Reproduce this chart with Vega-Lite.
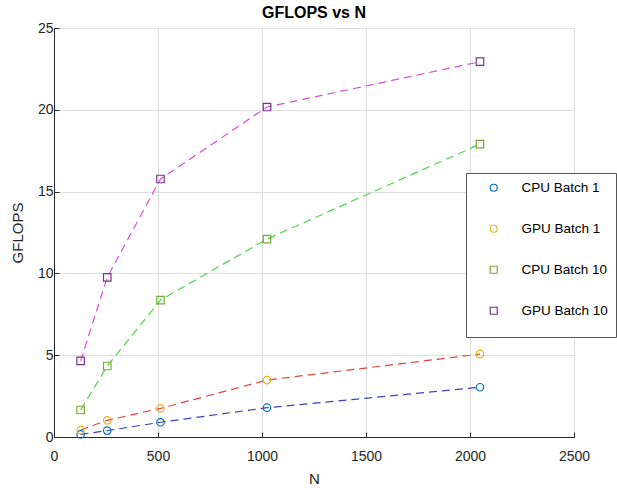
{
  "$schema": "https://vega.github.io/schema/vega-lite/v6.json",
  "width": 520,
  "height": 409,
  "autosize": {"type": "none"},
  "padding": {"left": 54, "top": 28, "right": 43, "bottom": 53},
  "background": "white",
  "title": {"text": "GFLOPS vs N", "fontSize": 16, "fontWeight": "bold", "font": "Liberation Sans", "color": "#000000", "offset": 0, "anchor": "middle"},
  "config": {
    "font": "Liberation Sans",
    "view": {"stroke": null},
    "axis": {
      "labelFont": "Liberation Sans", "labelFontSize": 14, "labelColor": "#262626",
      "titleFont": "Liberation Sans", "titleFontSize": 15, "titleFontWeight": "normal", "titleColor": "#262626",
      "domainColor": "#262626", "domainWidth": 1, "tickColor": "#262626", "tickSize": -5, "tickWidth": 1,
      "gridColor": "#dedede", "gridWidth": 1, "grid": true
    },
    "legend": {
      "labelFont": "Liberation Sans", "labelFontSize": 13.5, "labelColor": "#000000"
    }
  },
  "data": {
    "values": [
      {"series": "CPU Batch 1", "N": 128, "gflops": 0.16},
      {"series": "CPU Batch 1", "N": 256, "gflops": 0.39},
      {"series": "CPU Batch 1", "N": 512, "gflops": 0.90},
      {"series": "CPU Batch 1", "N": 1024, "gflops": 1.79},
      {"series": "CPU Batch 1", "N": 2048, "gflops": 3.04},
      {"series": "GPU Batch 1", "N": 128, "gflops": 0.43},
      {"series": "GPU Batch 1", "N": 256, "gflops": 1.02},
      {"series": "GPU Batch 1", "N": 512, "gflops": 1.75},
      {"series": "GPU Batch 1", "N": 1024, "gflops": 3.48},
      {"series": "GPU Batch 1", "N": 2048, "gflops": 5.07},
      {"series": "CPU Batch 10", "N": 128, "gflops": 1.65},
      {"series": "CPU Batch 10", "N": 256, "gflops": 4.34},
      {"series": "CPU Batch 10", "N": 512, "gflops": 8.37},
      {"series": "CPU Batch 10", "N": 1024, "gflops": 12.1},
      {"series": "CPU Batch 10", "N": 2048, "gflops": 17.9},
      {"series": "GPU Batch 10", "N": 128, "gflops": 4.65},
      {"series": "GPU Batch 10", "N": 256, "gflops": 9.76},
      {"series": "GPU Batch 10", "N": 512, "gflops": 15.77},
      {"series": "GPU Batch 10", "N": 1024, "gflops": 20.17},
      {"series": "GPU Batch 10", "N": 2048, "gflops": 22.94}
    ]
  },
  "encoding": {
    "x": {"field": "N", "type": "quantitative", "scale": {"domain": [0, 2500], "nice": false},
      "axis": {"values": [0, 500, 1000, 1500, 2000, 2500], "format": "d", "title": "N", "labelPadding": 17, "titlePadding": 8, "labelFlush": false}},
    "y": {"field": "gflops", "type": "quantitative", "scale": {"domain": [0, 25], "nice": false},
      "axis": {"values": [0, 5, 10, 15, 20, 25], "title": "GFLOPS", "labelPadding": 6, "titlePadding": 12, "labelFlush": false}}
  },
  "layer": [
    {
      "mark": {"type": "line", "strokeDash": [8, 5], "strokeWidth": 1.2},
      "encoding": {
        "color": {"field": "series", "type": "nominal",
          "scale": {"domain": ["GPU Batch 10", "CPU Batch 10", "GPU Batch 1", "CPU Batch 1"],
                    "range": ["#d64fd6", "#45d845", "#e0443c", "#4040c0"]},
          "legend": null}
      }
    },
    {
      "mark": {"type": "point", "filled": false, "strokeWidth": 1.2, "opacity": 1},
      "encoding": {
        "stroke": {"field": "series", "type": "nominal",
          "scale": {"domain": ["CPU Batch 1", "GPU Batch 1", "CPU Batch 10", "GPU Batch 10"],
                    "range": ["#0072BD", "#EDB120", "#77AC30", "#7E2F8E"]},
          "legend": {
            "title": " ", "titleOrient": "bottom", "titleFontSize": 6, "titlePadding": 6,
            "orient": "none", "legendX": 412, "legendY": 145,
            "padding": 8, "fillColor": "white", "strokeColor": "#555555",
            "symbolOffset": 13, "labelOffset": 21, "rowPadding": 26,
            "symbolStrokeWidth": 1.2, "symbolSize": 49, "labelFontSize": 13.5
          }},
        "shape": {"field": "series", "type": "nominal",
          "scale": {"domain": ["CPU Batch 1", "GPU Batch 1", "CPU Batch 10", "GPU Batch 10"],
                    "range": ["circle", "circle", "square", "square"]}},
        "size": {"field": "series", "type": "nominal",
          "scale": {"domain": ["GPU Batch 10", "CPU Batch 10", "GPU Batch 1", "CPU Batch 1"],
                    "range": [56, 56, 100, 100]}, "legend": null}
      }
    }
  ]
}
